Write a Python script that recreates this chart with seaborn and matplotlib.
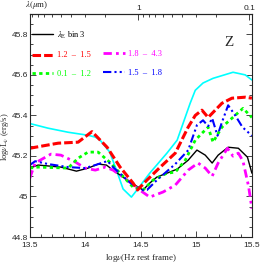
import numpy as np
import pandas as pd
import seaborn as sns
import matplotlib
matplotlib.use('Agg')
from matplotlib import pyplot as plt
from matplotlib.lines import Line2D

# log nu (Hz rest frame) and log nu L_nu (erg/s)
cyan_x = [13.5, 13.665, 13.845, 14.025, 14.09, 14.133, 14.22, 14.287, 14.34, 14.415, 14.465,
          14.58, 14.735, 14.827, 14.944, 14.99, 15.06, 15.15, 15.33, 15.44, 15.5]
cyan_y = [45.36, 45.337, 45.317, 45.302, 45.293, 45.278, 45.219, 45.12, 45.037, 44.997, 45.032,
          45.115, 45.214, 45.278, 45.46, 45.524, 45.56, 45.583, 45.613, 45.60, 45.575]

red_x = [13.5, 13.755, 13.935, 14.06, 14.196, 14.313, 14.43, 14.47, 14.555, 14.675, 14.81,
         14.926, 14.99, 15.05, 15.106, 15.17, 15.23, 15.32, 15.44, 15.5]
red_y = [45.238, 45.263, 45.268, 45.32, 45.243, 45.145, 45.066, 45.032, 45.081, 45.145, 45.214,
         45.342, 45.40, 45.426, 45.39, 45.426, 45.46, 45.485, 45.49, 45.485]

green_x = [13.5, 13.575, 13.845, 13.935, 14.025, 14.115, 14.22, 14.313, 14.43, 14.52, 14.61,
           14.735, 14.81, 14.90, 14.99, 15.05, 15.106, 15.15, 15.23, 15.32, 15.42, 15.5]
green_y = [45.14, 45.145, 45.14, 45.189, 45.219, 45.219, 45.169, 45.115, 45.046, 45.032, 45.081,
           45.115, 45.12, 45.179, 45.278, 45.312, 45.342, 45.268, 45.342, 45.386, 45.435, 45.39]

blue_x = [13.5, 13.548, 13.665, 13.845, 13.998, 14.09, 14.2, 14.25, 14.377, 14.49, 14.555,
          14.645, 14.81, 14.926, 15.005, 15.06, 15.106, 15.142, 15.19, 15.23, 15.286, 15.35,
          15.415, 15.5]
blue_y = [45.155, 45.174, 45.16, 45.145, 45.14, 45.155, 45.175, 45.145, 45.081, 45.032, 45.032,
          45.081, 45.16, 45.228, 45.352, 45.376, 45.347, 45.386, 45.30, 45.366, 45.45, 45.40,
          45.342, 45.30]

black_x = [13.5, 13.575, 13.78, 13.92, 14.025, 14.115, 14.19, 14.25, 14.415, 14.52, 14.58,
           14.645, 14.735, 14.827, 14.926, 15.005, 15.08, 15.142, 15.196, 15.286, 15.378,
           15.46, 15.5]
black_y = [45.14, 45.155, 45.145, 45.125, 45.14, 45.16, 45.155, 45.13, 45.066, 45.032, 45.066,
           45.096, 45.115, 45.135, 45.179, 45.229, 45.204, 45.165, 45.204, 45.243, 45.238,
           45.194, 45.115]

mag_x = [13.5, 13.548, 13.69, 13.78, 13.91, 13.998, 14.09, 14.18, 14.25, 14.377, 14.49,
         14.58, 14.70, 14.81, 14.926, 15.015, 15.08, 15.142, 15.196, 15.28, 15.33, 15.378,
         15.42, 15.47, 15.5]
mag_y = [45.09, 45.165, 45.209, 45.204, 45.17, 45.14, 45.13, 45.145, 45.13, 45.081, 45.032,
         44.997, 45.022, 45.056, 45.13, 45.165, 45.14, 45.10, 45.165, 45.238, 45.199, 45.214,
         45.174, 45.05, 44.94]

# top axis, wavelength in micron
lam_major = [1, 0.1]
lam_minor = [9, 8, 7, 6, 5, 4, 3, 2, 0.9, 0.8, 0.7, 0.6, 0.5, 0.4, 0.3, 0.2]

sns.set_style('ticks')
plt.rcParams['font.family'] = ['Liberation Sans', 'DejaVu Sans']
plt.rcParams['mathtext.fontset'] = 'stix'

f, ax = plt.subplots(figsize=(2.66, 2.66), dpi=100)
f.subplots_adjust(left=0.112, right=0.947, bottom=0.109, top=0.947)

sns.lineplot(x=cyan_x, y=cyan_y, ax=ax, color='#00ffff', lw=1.2)
sns.lineplot(x=black_x, y=black_y, ax=ax, color='black', lw=1.0)
sns.lineplot(x=mag_x, y=mag_y, ax=ax, color='#ff00ff', lw=2.0, linestyle=(0, (3, 1.5, 1, 1.5)))
sns.lineplot(x=green_x, y=green_y, ax=ax, color='#00ff00', lw=2.0, linestyle=(0, (1.2, 1.2)))
sns.lineplot(x=blue_x, y=blue_y, ax=ax, color='#0000ff', lw=1.5,
             linestyle=(0, (4, 1.5, 1, 1.5, 1, 1.5)))
sns.lineplot(x=red_x, y=red_y, ax=ax, color='#ff0000', lw=2.2, linestyle=(0, (2.8, 1.0)))

ax.set_xlim(13.5, 15.5)
ax.set_ylim(44.8, 45.9)
ax.set_xticks([13.5, 14, 14.5, 15, 15.5])
ax.set_xticklabels(['13.5', '14', '14.5', '15', '15.5'])
ax.set_yticks([44.8, 45, 45.2, 45.4, 45.6, 45.8])
ax.set_yticklabels(['44.8', '45', '45.2', '45.4', '45.6', '45.8'])
ax.set_xticks(np.arange(13.5, 15.51, 0.1), minor=True)
ax.set_yticks(np.arange(44.8, 45.91, 0.05), minor=True)
ax.tick_params(which='both', direction='in', top=False, right=True, labelsize=6, width=0.6)
ax.tick_params(axis='y', which='both', pad=1.5)
ax.tick_params(which='major', length=4)
ax.tick_params(which='minor', length=2)
for s in ax.spines.values():
    s.set_linewidth(0.8)

ax.set_xlabel(r'log$\nu$(Hz rest frame)', fontsize=6.5, family='Liberation Serif', labelpad=2)
ax.set_ylabel(r'log$\nu$L$_\nu$ (erg/s)', fontsize=6, family='Liberation Serif')
ax.yaxis.set_label_coords(-0.085, 0.45)

# wavelength axis on top
lognu = lambda lam: np.log10(2.998e14 / np.array(lam, dtype=float))
top = ax.secondary_xaxis('top')
top.set_xticks(lognu(lam_major))
top.set_xticklabels(['1', '0.1'])
top.set_xticks(lognu(lam_minor), minor=True)
top.tick_params(which='both', direction='in', labelsize=6, width=0.6, pad=1.5)
top.tick_params(which='major', length=4)
top.tick_params(which='minor', length=2)
ax.text(-0.02, 1.012, r'$\lambda(\mu$m)', transform=ax.transAxes, fontsize=6.5,
        family='Liberation Serif', ha='left', va='bottom')

ax.text(0.896, 0.874, 'Z', transform=ax.transAxes, fontsize=11, family='Liberation Serif',
        ha='center', va='center')

# legend: two columns, first slot of second column left empty
handles = [
    Line2D([], [], color='black', lw=1.0),
    Line2D([], [], color='#ff0000', lw=2.2, linestyle=(0, (2.8, 1.0))),
    Line2D([], [], color='#00ff00', lw=2.0, linestyle=(0, (1.2, 1.2))),
    Line2D([], [], color='none'),
    Line2D([], [], color='#ff00ff', lw=2.0, linestyle=(0, (3, 1.5, 1, 1.5))),
    Line2D([], [], color='#0000ff', lw=1.5, linestyle=(0, (4, 1.5, 1, 1.5, 1, 1.5))),
]
labels = [r'$\lambda_{\rm E}$ bin 3', '1.2  –  1.5', '0.1  –  1.2', '',
          '1.8  –  4.3', '1.5  –  1.8']
leg = ax.legend(handles, labels, ncol=2, loc='upper left', bbox_to_anchor=(-0.025, 0.965),
                frameon=False, fontsize=6, handlelength=2.6, handletextpad=0.4,
                labelspacing=1.3, columnspacing=1.5)
for t, h in zip(leg.get_texts(), handles):
    c = h.get_color()
    t.set_color('black' if c == 'none' else c)
    t.set_family('Liberation Serif')

plt.savefig('out.png', dpi=100)
